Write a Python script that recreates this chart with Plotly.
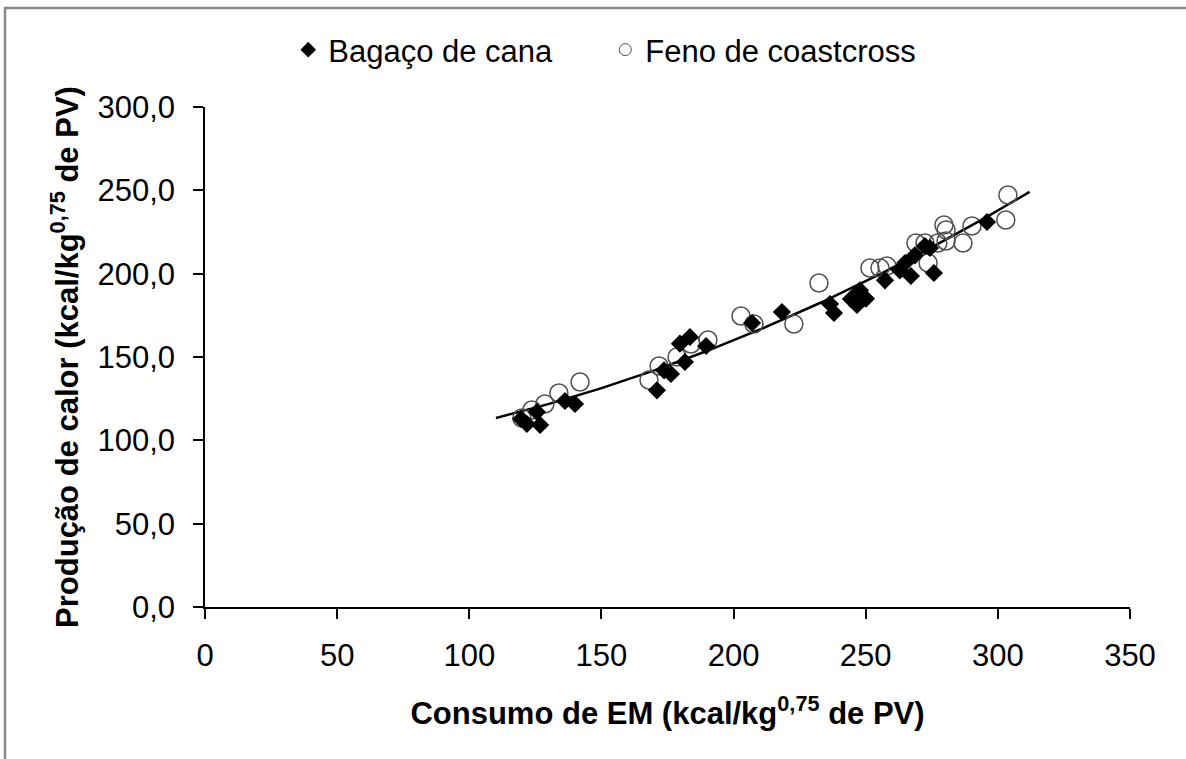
import plotly.graph_objects as go
import numpy as np

# Bagaço de cana (diamonds)
bagaco_x = [119.6, 121.8, 126.8, 125.6, 136.2, 140.0, 171.0, 173.7, 176.3, 181.6,
            179.7, 183.5, 189.6, 207.0, 218.3, 236.5, 238.0, 244.4, 246.7, 247.8,
            250.1, 257.3, 262.9, 264.9, 267.1, 268.6, 272.4, 274.3, 275.8, 295.9]
bagaco_y = [112.8, 109.8, 109.2, 117.0, 123.6, 121.8, 130.0, 142.0, 139.8, 147.0,
            158.0, 162.0, 156.6, 170.4, 177.0, 181.8, 176.4, 184.8, 181.2, 190.0,
            185.0, 196.0, 202.0, 206.4, 198.6, 211.0, 216.6, 215.4, 200.4, 231.0]

# Feno de coastcross (open circles)
feno_x = [119.9, 123.7, 128.6, 133.9, 141.9, 168.0, 171.8, 178.6, 183.9, 190.3,
          202.8, 207.7, 222.8, 232.3, 251.6, 255.4, 258.0, 273.6, 269.0, 272.4,
          277.3, 279.6, 280.4, 286.8, 290.2, 303.0, 303.8, 280.4]
feno_y = [113.4, 118.2, 121.8, 128.4, 135.0, 136.2, 144.6, 150.0, 157.8, 160.2,
          174.6, 169.8, 169.8, 194.4, 203.4, 203.4, 204.6, 206.4, 218.4, 218.4,
          218.4, 229.2, 226.2, 218.4, 228.6, 232.2, 247.2, 219.6]

# Trend line (quadratic)
trend_coef = [86.63, 0.0919, 0.001374]  # a + b*x + c*x^2
trend_range = [110.1, 312.0]

x_ticks = [0, 50, 100, 150, 200, 250, 300, 350]
y_ticks = [0, 50, 100, 150, 200, 250, 300]
y_tick_text = ["0,0", "50,0", "100,0", "150,0", "200,0", "250,0", "300,0"]

FONT = "Liberation Sans, Arial, sans-serif"

tx = np.linspace(trend_range[0], trend_range[1], 100)
ty = trend_coef[0] + trend_coef[1] * tx + trend_coef[2] * tx ** 2

fig = go.Figure()
fig.add_trace(go.Scatter(x=tx, y=ty, mode="lines", line=dict(color="black", width=2.5),
                         showlegend=False, hoverinfo="skip"))
fig.add_trace(go.Scatter(x=feno_x, y=feno_y, mode="markers", showlegend=False,
                         marker=dict(symbol="circle-open", size=18, color="#505050",
                                     line=dict(width=1.5, color="#505050"))))
fig.add_trace(go.Scatter(x=bagaco_x, y=bagaco_y, mode="markers", showlegend=False,
                         marker=dict(symbol="diamond", size=14, color="black",
                                     line=dict(width=0))))
# legend entries
fig.add_trace(go.Scatter(x=[None], y=[None], mode="markers", name="Bagaço de cana",
                         marker=dict(symbol="diamond", size=12, color="black")))
fig.add_trace(go.Scatter(x=[None], y=[None], mode="markers", name="Feno de coastcross",
                         marker=dict(symbol="circle-open", size=12, color="#505050",
                                     line=dict(width=1))))

fig.update_layout(
    width=1186, height=759,
    margin=dict(l=205, r=56, t=107, b=152),
    paper_bgcolor="white", plot_bgcolor="white",
    font=dict(family=FONT, size=31, color="black"),
    legend=dict(orientation="h", x=0.09, xanchor="left", y=1.114, yanchor="middle",
                font=dict(size=31, family=FONT), itemwidth=30, entrywidth=272,
                bgcolor="rgba(0,0,0,0)"),
    xaxis=dict(range=[0, 350], tickvals=x_ticks, ticktext=[str(v) for v in x_ticks],
               showgrid=False, zeroline=False, showline=True, linecolor="black", linewidth=1.5,
               ticks="outside", ticklen=10, tickwidth=1.5, tickcolor="black",
               tickfont=dict(size=31, family=FONT), ticklabelstandoff=10,
               title=dict(text="<b>Consumo de EM (kcal/kg<sup>0,75</sup> de PV)</b>",
                          font=dict(size=31, family=FONT), standoff=30)),
    yaxis=dict(range=[0, 300], tickvals=y_ticks, ticktext=y_tick_text,
               showgrid=False, zeroline=False, showline=True, linecolor="black", linewidth=1.5,
               ticks="outside", ticklen=10, tickwidth=1.5, tickcolor="black",
               tickfont=dict(size=31, family=FONT), ticklabelstandoff=12,
               title=dict(text="<b>Produção de calor (kcal/kg<sup>0,75</sup> de PV)</b>",
                          font=dict(size=31, family=FONT), standoff=10)),
    shapes=[dict(type="rect", xref="paper", yref="paper", x0=-0.2162, x1=1.3,
                 y0=-0.6, y1=1.198, line=dict(color="#8a8a8a", width=2.5),
                 fillcolor="rgba(0,0,0,0)", layer="below")],
)

fig.write_html("out.html")
